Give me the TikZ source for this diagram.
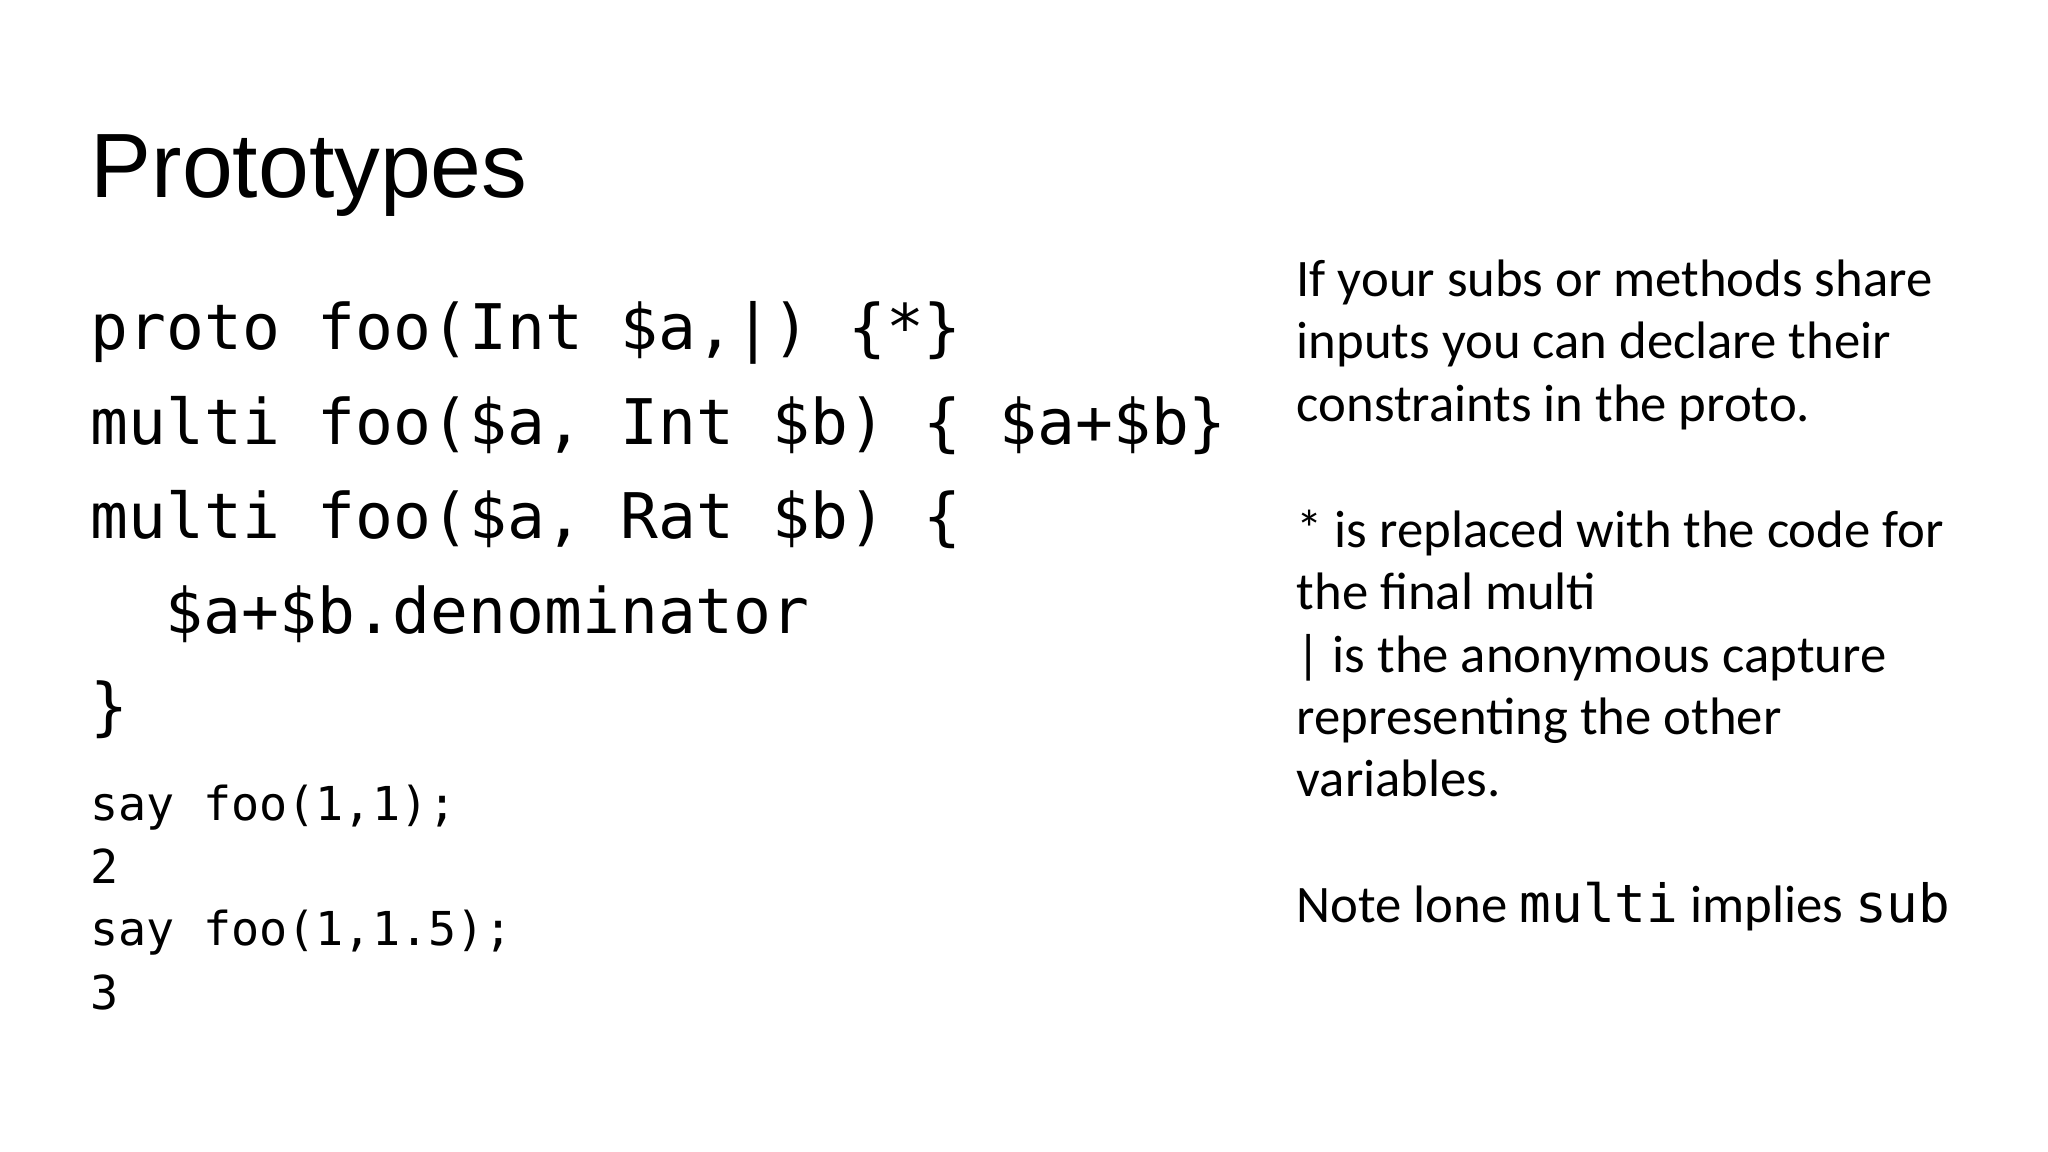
\documentclass[tikz,border=0pt]{standalone}
\usepackage{fontspec}
\setmainfont{Carlito}
\newfontfamily\titlefont{Liberation Sans}
\setmonofont{DejaVu Sans Mono}
\begin{document}
\begin{tikzpicture}[x=1cm,y=1cm,
  txt/.style={anchor=base west,inner sep=0pt},
  big/.style={txt,font=\ttfamily\fontsize{17.9}{20}\selectfont},
  small/.style={txt,font=\ttfamily\fontsize{13.3}{15}\selectfont},
  side/.style={txt,font=\fontsize{15}{18}\selectfont}]
\useasboundingbox (0,0) rectangle (20.48,11.52);
\node[txt,font=\titlefont\fontsize{26}{30}\selectfont] (title) at (0.90,9.54) {Prototypes};
\node[big] (c1) at (0.90,8.02) {proto foo(Int \$a,|) \{*\}};
\node[big] (c2) at (0.90,7.07) {multi foo(\$a, Int \$b) \{ \$a+\$b\}};
\node[big] (c3) at (0.90,6.13) {multi foo(\$a, Rat \$b) \{};
\node[big] (c4) at (1.65,5.18) {\$a+\$b.denominator};
\node[big] (c5) at (0.90,4.23) {\}};
\node[small] (s1) at (0.90,3.31) {say foo(1,1);};
\node[small] (s2) at (0.90,2.68) {2};
\node[small] (s3) at (0.90,2.06) {say foo(1,1.5);};
\node[small] (s4) at (0.90,1.42) {3};
\node[side] (r1) at (12.96,8.55) {If your subs or methods share};
\node[side] (r2) at (12.96,7.93) {inputs you can declare their};
\node[side] (r3) at (12.96,7.30) {constraints in the proto.};
\node[side] (r4) at (12.96,6.04) {* is replaced with the code for};
\node[side] (r5) at (12.96,5.42) {the final multi};
\node[side] (r6) at (12.96,4.79) {| is the anonymous capture};
\node[side] (r7) at (12.96,4.17) {representing the other};
\node[side] (r8) at (12.96,3.55) {variables.};
\node[side] (r9) at (12.96,2.29) {Note lone {\ttfamily multi} implies {\ttfamily sub}};
\end{tikzpicture}
\end{document}
